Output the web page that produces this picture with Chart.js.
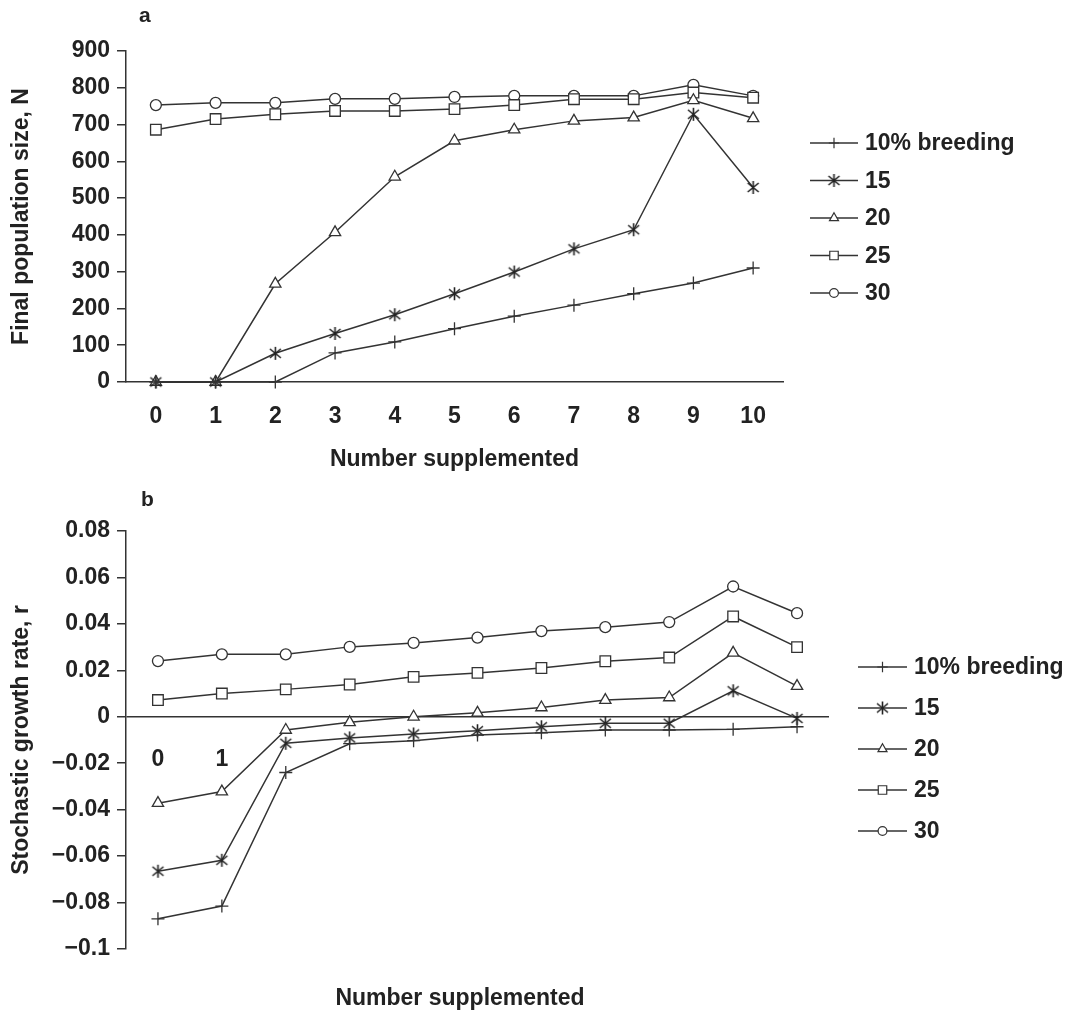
<!DOCTYPE html>
<html>
<head>
<meta charset="utf-8">
<script src="https://cdn.jsdelivr.net/npm/chart.js@4.4.1/dist/chart.umd.min.js"></script>
<style>
  body { margin: 0; background: #fff; }
  #wrap { position: relative; width: 1073px; height: 1015px; }
  canvas { position: absolute; left: 0; }
  .panel { position: absolute; font: bold 21px "Liberation Sans", Arial, sans-serif; color: #222; }
</style>
</head>
<body>
<div id="wrap">
  <canvas id="popChart" width="1073" height="490" style="top:0"></canvas>
  <canvas id="rateChart" width="1073" height="525" style="top:490px"></canvas>
  <div class="panel" style="left:139px;top:3px">a</div>
  <div class="panel" style="left:141px;top:487px">b</div>
</div>
<script>
// x categories (number supplemented)
var categories = ["0", "1", "2", "3", "4", "5", "6", "7", "8", "9", "10"];
var seriesNames = ["10% breeding", "15", "20", "25", "30"];

// panel a: final population size N
var popN10 = [0, 0, 0, 79, 109, 145, 179, 209, 240, 269, 310];
var popN15 = [0, 0, 78, 132, 183, 240, 299, 362, 414, 728, 529];
var popN20 = [0, 0, 267, 407, 558, 656, 686, 710, 719, 766, 717];
var popN25 = [686, 715, 728, 737, 737, 742, 753, 769, 769, 787, 773];
var popN30 = [753, 759, 759, 770, 770, 775, 778, 778, 778, 808, 778];

// panel b: stochastic growth rate r
var rate10 = [-0.087, -0.0815, -0.024, -0.0116, -0.0103, -0.0079, -0.0069, -0.0057, -0.0057, -0.0054, -0.0043];
var rate15 = [-0.0665, -0.0618, -0.0114, -0.0091, -0.0074, -0.006, -0.0043, -0.0028, -0.0028, 0.0112, -0.0007];
var rate20 = [-0.0372, -0.0322, -0.0057, -0.0024, 0.0, 0.0017, 0.004, 0.0072, 0.0083, 0.0275, 0.0132];
var rate25 = [0.0072, 0.01, 0.0118, 0.0139, 0.0172, 0.0189, 0.021, 0.0239, 0.0255, 0.0432, 0.03];
var rate30 = [0.024, 0.0269, 0.0269, 0.0301, 0.0318, 0.0341, 0.0369, 0.0386, 0.0408, 0.0561, 0.0446];

// the only x labels printed in panel b, under the zero line
var rateZeroLabels = ["0", "1"];

var INK = "#333";
var FONT = '"Liberation Sans", Arial, sans-serif';

// asterisk marker (vertical bar + X), like the original
var star = document.createElement("canvas");
star.width = 15; star.height = 15;
(function () {
  var c = star.getContext("2d");
  c.strokeStyle = "#222"; c.lineWidth = 1.6;
  c.beginPath();
  c.moveTo(7.5, 1); c.lineTo(7.5, 14);
  c.moveTo(2, 3); c.lineTo(13, 12);
  c.moveTo(13, 3); c.lineTo(2, 12);
  c.stroke();
})();

var markers = ["cross", star, "triangle", "rect", "circle"];
var markerSize = [6.5, 6, 6.5, 7.5, 5.5];

function makeSets(lists) {
  return lists.map(function (vals, i) {
    return {
      label: seriesNames[i],
      data: vals,
      borderColor: INK,
      borderWidth: 1.5,
      pointStyle: markers[i],
      pointRadius: markerSize[i],
      pointBackgroundColor: "#fff",
      pointBorderColor: INK,
      pointBorderWidth: 1.3,
      tension: 0,
      clip: false
    };
  });
}

// legend: short line with the marker in its middle, then the name
var lineLegend = {
  id: "lineLegend",
  afterDraw: function (chart, args, opts) {
    var ctx = chart.ctx;
    ctx.save();
    chart.data.datasets.forEach(function (ds, i) {
      var y = opts.top + i * opts.gap;
      ctx.strokeStyle = INK;
      ctx.lineWidth = 1.5;
      ctx.beginPath();
      ctx.moveTo(opts.x, y);
      ctx.lineTo(opts.x + opts.len, y);
      ctx.stroke();
      ctx.fillStyle = "#fff";
      ctx.lineWidth = 1.2;
      Chart.helpers.drawPoint(ctx, {
        pointStyle: ds.pointStyle, radius: ds.pointRadius * 0.8, rotation: 0, borderWidth: 1.2
      }, opts.x + opts.len / 2, y);
      ctx.fillStyle = "#222";
      ctx.font = "bold " + opts.size + "px " + FONT;
      ctx.textBaseline = "middle";
      ctx.textAlign = "left";
      ctx.fillText(ds.label, opts.x + opts.len + 7, y + 1);
    });
    ctx.restore();
  }
};

// "0" and "1" under the zero line in panel b, plus the x caption
var zeroLabels = {
  id: "zeroLabels",
  afterDraw: function (chart, args, opts) {
    var ctx = chart.ctx, xs = chart.scales.x, ys = chart.scales.y;
    ctx.save();
    ctx.fillStyle = "#222";
    ctx.textAlign = "center";
    ctx.textBaseline = "middle";
    ctx.font = "bold 23px " + FONT;
    opts.labels.forEach(function (t, i) {
      ctx.fillText(t, xs.getPixelForValue(i), ys.getPixelForValue(0) + opts.offset);
    });
    ctx.fillText(opts.caption, opts.captionX, opts.captionY);
    ctx.restore();
  }
};

function fmtRate(v) {
  if (Math.abs(v) < 1e-9) return "0";
  return String(parseFloat(v.toFixed(2))).replace("-", "\u2212");
}

new Chart(document.getElementById("popChart"), {
  type: "line",
  data: { labels: categories, datasets: makeSets([popN10, popN15, popN20, popN25, popN30]) },
  plugins: [lineLegend],
  options: {
    responsive: false,
    animation: false,
    layout: { padding: { left: 0, right: 290, top: 51, bottom: 0 } },
    plugins: {
      legend: { display: false },
      tooltip: { enabled: false },
      lineLegend: { x: 810, len: 48, top: 143, gap: 37.5, size: 23 }
    },
    scales: {
      x: {
        offset: true,
        grid: { display: false, drawTicks: false },
        border: { color: INK, width: 1.5 },
        ticks: { color: "#222", font: { family: FONT, size: 23, weight: "bold" }, padding: 21 },
        title: { display: true, text: "Number supplemented", color: "#222",
                 font: { family: FONT, size: 23, weight: "bold" }, padding: { top: 0, bottom: 17 } },
        afterFit: function (s) { s.height = 108; }
      },
      y: {
        min: 0, max: 900,
        ticks: { stepSize: 100, color: "#222", font: { family: FONT, size: 23, weight: "bold" }, padding: 7 },
        grid: { drawOnChartArea: false, color: INK, tickLength: 9, lineWidth: 1.5 },
        border: { color: INK, width: 1.5 },
        title: { display: true, text: "Final population size, N", color: "#222",
                 font: { family: FONT, size: 23, weight: "bold" }, padding: { top: 8, bottom: 0 } },
        afterFit: function (s) { s.width = 126; }
      }
    }
  }
});

new Chart(document.getElementById("rateChart"), {
  type: "line",
  data: { labels: categories, datasets: makeSets([rate10, rate15, rate20, rate25, rate30]) },
  plugins: [lineLegend, zeroLabels],
  options: {
    responsive: false,
    animation: false,
    layout: { padding: { left: 0, right: 244, top: 41, bottom: 0 } },
    plugins: {
      legend: { display: false },
      tooltip: { enabled: false },
      lineLegend: { x: 858, len: 49, top: 177, gap: 41, size: 23 },
      zeroLabels: { labels: rateZeroLabels, offset: 43, caption: "Number supplemented", captionX: 460, captionY: 509 }
    },
    scales: {
      x: {
        offset: true,
        grid: { display: false, drawTicks: false },
        border: { display: false },
        ticks: { display: false },
        afterFit: function (s) { s.height = 66; }
      },
      y: {
        min: -0.1, max: 0.08,
        ticks: { stepSize: 0.02, color: "#222", font: { family: FONT, size: 23, weight: "bold" }, padding: 7,
                 callback: function (v) { return fmtRate(v); } },
        grid: {
          color: function (c) { return Math.abs(c.tick.value) < 1e-9 ? INK : "rgba(0,0,0,0)"; },
          tickColor: INK, tickLength: 9, lineWidth: 1.5
        },
        border: { color: INK, width: 1.5 },
        title: { display: true, text: "Stochastic growth rate, r", color: "#222",
                 font: { family: FONT, size: 23, weight: "bold" }, padding: { top: 8, bottom: 0 } },
        afterFit: function (s) { s.width = 126; }
      }
    }
  }
});
</script>
</body>
</html>
